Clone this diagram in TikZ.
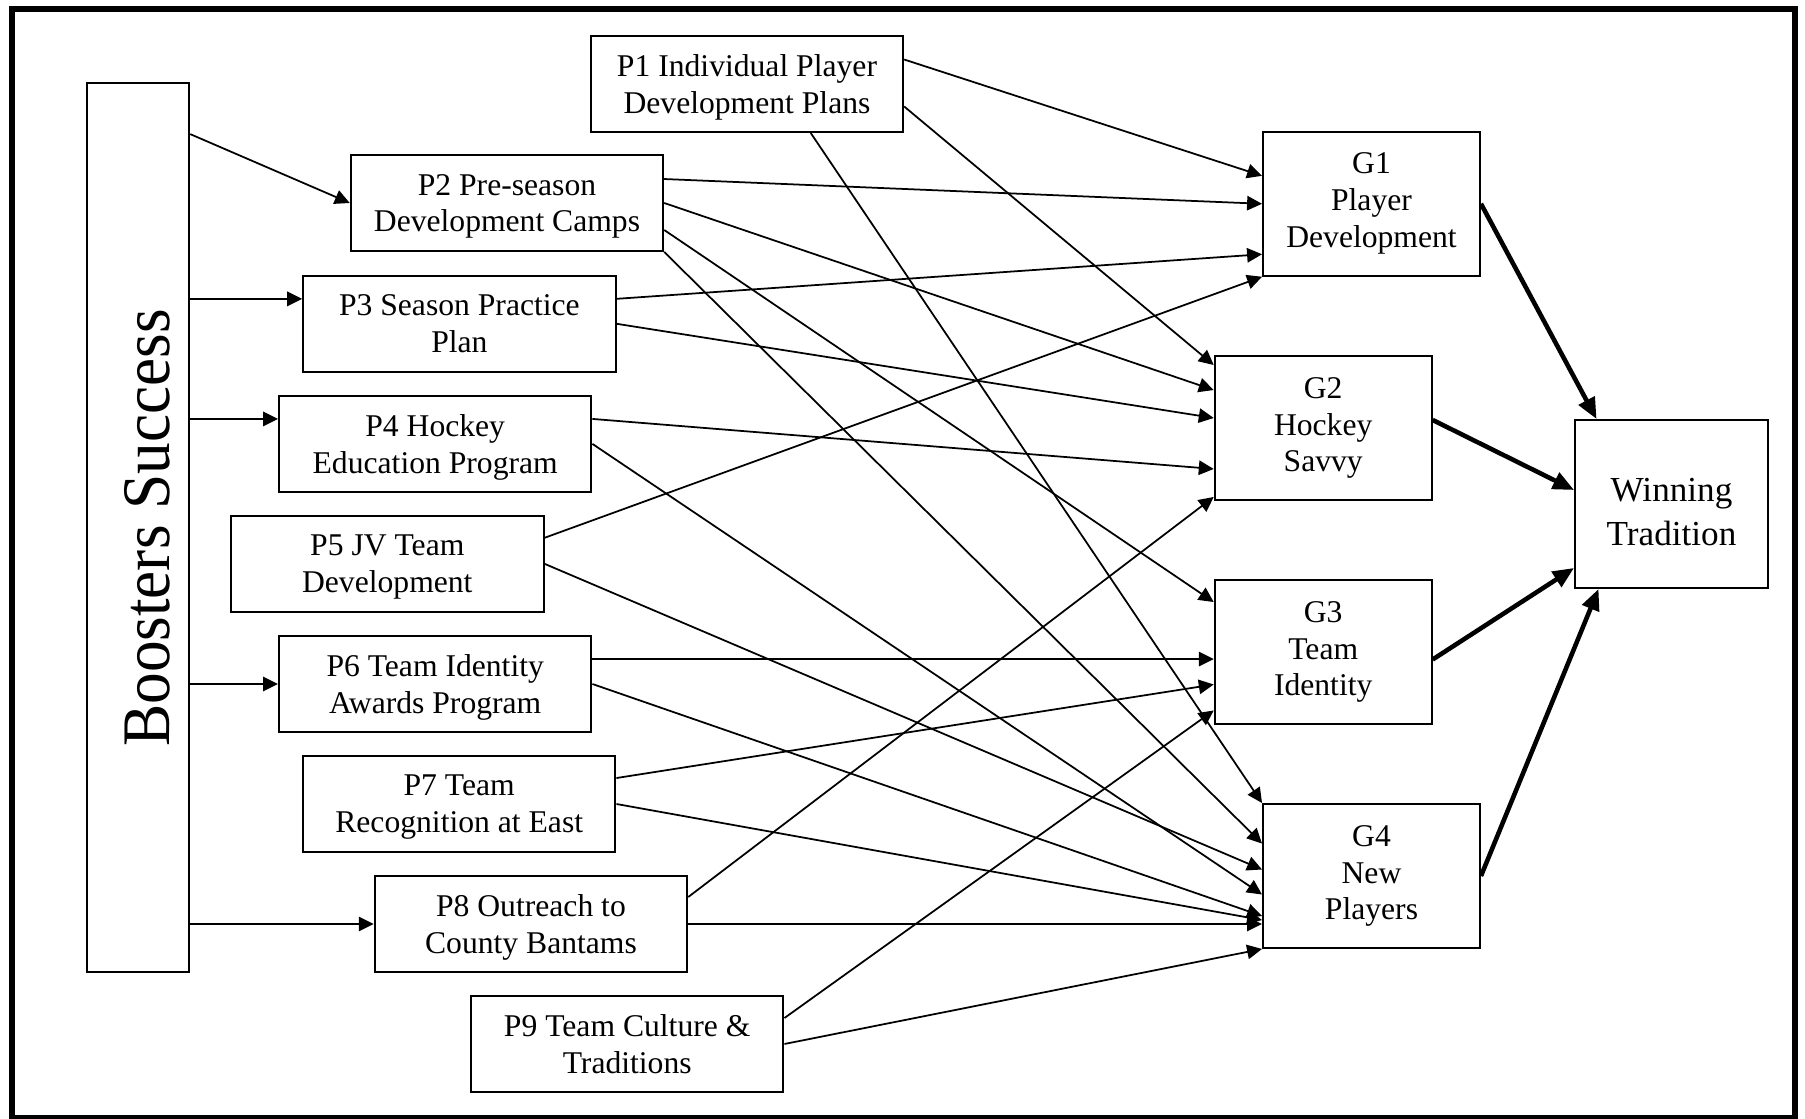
\documentclass[tikz,border=0pt]{standalone}
\usepackage{fontspec}
\setmainfont{Liberation Serif}
\newfontfamily\boostfont[FakeStretch=0.93]{Liberation Serif}
\usetikzlibrary{arrows.meta}
\tikzset{
	box/.style={draw, line width=1.1pt, align=center, inner sep=2pt, font=\fontsize{18}{21}\selectfont},
	pbox/.style={box, minimum width=6.25cm, minimum height=1.92cm, text depth=0pt},
	gbox/.style={box, minimum width=4.34cm, minimum height=2.88cm},
	arr/.style={line width=1pt, -{Triangle[length=8.5pt,width=8.2pt]}},
	bigarr/.style={line width=2.6pt, -{Triangle[length=12pt,width=10pt]}}
}

\begin{document}
\begin{tikzpicture}
			%%%%% START %%%%%
			
			\useasboundingbox (0, 0) rectangle (36.1, 22.36);
			\draw[line width=3.4pt] (0.246, 0) rectangle (35.89, 22.18);
			
			\node[box, minimum width=2.04cm, minimum height=17.79cm] (boost) at (2.766, 11.813) {};
			\node[rotate=90, font=\boostfont\fontsize{38.7}{42}\selectfont] (boosttxt) at (2.95, 11.8) {Boosters Success};
			
			\node[pbox] (p1) at (14.94, 20.68) {P1 Individual Player\\Development Plans};
			\node[pbox] (p2) at (10.14, 18.30) {P2 Pre-season\\Development Camps};
			\node[pbox] (p3) at (9.188, 15.884) {P3 Season Practice\\Plan};
			\node[pbox] (p4) at (8.704, 13.482) {P4 Hockey\\Education Program};
			\node[pbox] (p5) at (7.746, 11.084) {P5 JV Team\\Development};
			\node[pbox] (p6) at (8.704, 8.68) {P6 Team Identity\\Awards Program};
			\node[pbox] (p7) at (9.184, 6.28) {P7 Team\\Recognition at East};
			\node[pbox] (p8) at (10.62, 3.88) {P8 Outreach to\\County Bantams};
			\node[pbox] (p9) at (12.544, 1.48) {P9 Team Culture \&\\Traditions};
			
			\node[gbox] (g1) at (27.43, 18.284) {G1\\Player\\Development};
			\node[gbox] (g2) at (26.464, 13.8) {G2\\Hockey\\Savvy};
			\node[gbox] (g3) at (26.464, 9.32) {G3\\Team\\Identity};
			\node[gbox] (g4) at (27.43, 4.84) {G4\\New\\Players};
			
			\node[box, minimum width=3.86cm, minimum height=3.36cm, font=\fontsize{20}{25}\selectfont] (wt) at (33.43, 12.28) {\rule{0pt}{22.7pt}Winning\\Tradition};
			
			% boosters to programs
			\draw[arr] ([yshift=-1.05cm]boost.north east) -- (p2.west);
			\coordinate (p3in) at ([yshift=-0.48cm]p3.north west);
			\draw[arr] (boost.east |- p3in) -- (p3in);
			\coordinate (p4in) at ([yshift=-0.48cm]p4.north west);
			\draw[arr] (boost.east |- p4in) -- (p4in);
			\draw[arr] (boost.east |- p6.west) -- (p6.west);
			\draw[arr] (boost.east |- p8.west) -- (p8.west);
			
			% programs to goals
			\draw[arr] ([yshift=-0.49cm]p1.north east) -- ([yshift=-0.9cm]g1.north west);
			\draw[arr] ([yshift=-1.43cm]p1.north east) -- ([yshift=-0.2cm]g2.north west);
			\draw[arr] ([xshift=-1.87cm]p1.south east) -- (g4.north west);
			
			\draw[arr] ([yshift=-0.5cm]p2.north east) -- (g1.west);
			\draw[arr] (p2.east) -- ([yshift=-0.7cm]g2.north west);
			\draw[arr] ([yshift=-0.54cm]p2.east) -- ([yshift=-0.46cm]g3.north west);
			\draw[arr] (p2.south east) -- ([yshift=-0.81cm]g4.north west);
			
			\draw[arr] ([yshift=-0.48cm]p3.north east) -- ([yshift=0.45cm]g1.south west);
			\draw[arr] (p3.east) -- ([yshift=0.2cm]g2.west);
			
			\draw[arr] ([yshift=-0.48cm]p4.north east) -- ([yshift=0.64cm]g2.south west);
			\draw[arr] (p4.east) -- ([yshift=-0.37cm]g4.west);
			
			\draw[arr] ([yshift=-0.46cm]p5.north east) -- (g1.south west);
			\draw[arr] (p5.east) -- ([yshift=0.13cm]g4.west);
			
			\coordinate (p6out) at ([yshift=-0.48cm]p6.north east);
			\draw[arr] (p6out) -- (p6out -| g3.west);
			\draw[arr] (p6.east) -- ([yshift=-0.8cm]g4.west);
			
			\draw[arr] ([yshift=-0.46cm]p7.north east) -- ([yshift=-0.65cm]g3.west);
			\draw[arr] (p7.east) -- ([yshift=-0.88cm]g4.west);
			
			\draw[arr] ([yshift=-0.44cm]p8.north east) -- ([yshift=0.08cm]g2.south west);
			\draw[arr] (p8.east) -- (p8.east -| g4.west);
			
			\draw[arr] ([yshift=-0.46cm]p9.north east) -- ([yshift=0.29cm]g3.south west);
			\draw[arr] (p9.east) -- (g4.south west);
			
			% goals to tradition
			\draw[bigarr] (g1.east) -- ([xshift=0.45cm]wt.north west);
			\draw[bigarr] ([yshift=0.16cm]g2.east) -- ([yshift=0.28cm]wt.west);
			\draw[bigarr] ([yshift=-0.15cm]g3.east) -- ([yshift=-1.28cm]wt.west);
			\draw[bigarr] (g4.east) -- ([xshift=0.49cm]wt.south west);
			
			%%%%% END %%%%%
\end{tikzpicture}
\end{document}
